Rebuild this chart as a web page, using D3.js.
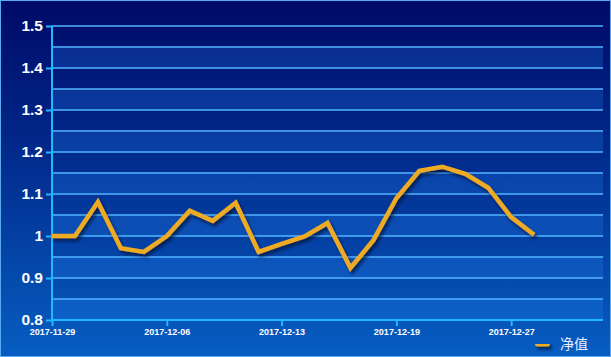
<!DOCTYPE html>
<html><head><meta charset="utf-8">
<script src="https://cdn.jsdelivr.net/npm/d3@7"></script>
<style>html,body{margin:0;padding:0;background:#000e6b;}svg{display:block;}</style>
</head><body>
<svg id="c" width="611" height="357"></svg>
<script>
const dates = ["2017-11-29","2017-11-30","2017-12-01","2017-12-04","2017-12-05","2017-12-06","2017-12-07","2017-12-08","2017-12-11","2017-12-12","2017-12-13","2017-12-14","2017-12-15","2017-12-17","2017-12-18","2017-12-19","2017-12-20","2017-12-21","2017-12-22","2017-12-26","2017-12-27","2017-12-28"];
const netValue = [1.0,1.0,1.081,0.971,0.962,1.0,1.06,1.036,1.079,0.962,0.981,0.999,1.031,0.924,0.99,1.09,1.155,1.165,1.148,1.115,1.045,1.003];
const xTickLabels = ["2017-11-29","2017-12-06","2017-12-13","2017-12-19","2017-12-27"];
const yTicks = [0.8,0.9,1,1.1,1.2,1.3,1.4,1.5];
const seriesName = "净值";

const W=611,H=357, L=52, R=603, T=26, B=320;
const svg=d3.select("#c");
const defs=svg.append("defs");
const g=defs.append("linearGradient").attr("id","bg").attr("x1",0).attr("y1",0).attr("x2",0).attr("y2",1);
g.append("stop").attr("offset","0%").attr("stop-color","#000966");
g.append("stop").attr("offset","45%").attr("stop-color","#012c8e");
g.append("stop").attr("offset","100%").attr("stop-color","#075ec2");
const f=defs.append("filter").attr("id","sh").attr("filterUnits","userSpaceOnUse")
  .attr("x",0).attr("y",0).attr("width",W).attr("height",H);
f.append("feDropShadow").attr("dx",2).attr("dy",3).attr("stdDeviation",1.6).attr("flood-color","#000a30").attr("flood-opacity",0.7);

svg.append("rect").attr("width",W).attr("height",H).attr("fill","url(#bg)");

const x=d3.scaleLinear().domain([0,24]).range([L,R]);
const y=d3.scaleLinear().domain([0.8,1.5]).range([B,T]);

// bands
const bands=d3.range(0,7).map(i=>0.8+i*0.1);
svg.append("g").selectAll("rect").data(bands).join("rect")
  .attr("x",L).attr("width",R-L)
  .attr("y",d=>y(d+0.05)).attr("height",d=>y(d)-y(d+0.05))
  .attr("fill","#2a8cff").attr("fill-opacity",0.22);

// grid lines
const grid=d3.range(0,15).map(i=>0.8+i*0.05);
svg.append("g").selectAll("line").data(grid.slice(1)).join("line")
  .attr("x1",L).attr("x2",R).attr("y1",d=>y(d)).attr("y2",d=>y(d))
  .attr("stroke","#52b4ff").attr("stroke-width",1.4);

// y axis
const ya=svg.append("g").attr("transform",`translate(${L},0)`)
  .call(d3.axisLeft(y).tickValues(yTicks).tickSize(6).tickPadding(3).tickFormat(d=>d3.format("")(+d.toFixed(1))));
ya.select(".domain").attr("stroke","#20b8ff").attr("stroke-width",2).attr("d",`M0,${T}V${B}`);
ya.selectAll(".tick line").attr("stroke","#20b8ff").attr("stroke-width",2);
ya.selectAll(".tick text").attr("fill","#ffffff").attr("font-family","Liberation Sans, Arial, sans-serif")
  .attr("font-weight","bold").attr("font-size",15.5);

// x axis
const xa=svg.append("g").attr("transform",`translate(0,${B})`)
  .call(d3.axisBottom(x).tickValues(xTickLabels.map(d=>dates.indexOf(d))).tickSize(6).tickPadding(3).tickFormat(i=>dates[i]));
xa.select(".domain").attr("stroke","#20b8ff").attr("stroke-width",2).attr("d",`M${L},0H${R}`);
xa.selectAll(".tick line").attr("stroke","#20b8ff").attr("stroke-width",2);
xa.selectAll(".tick text").attr("fill","#ffffff").attr("font-family","Liberation Sans, Arial, sans-serif")
  .attr("font-weight","bold").attr("font-size",9);

// line
const line=d3.line().x((d,i)=>x(i)).y(d=>y(d));
svg.append("path").datum(netValue).attr("d",line).attr("fill","none")
  .attr("stroke","#eeaa22").attr("stroke-width",4.5).attr("stroke-linejoin","miter").attr("filter","url(#sh)");

// legend
const lg=svg.append("g").attr("transform","translate(535,344)");
lg.append("rect").attr("x",0).attr("y",-2.5).attr("width",15).attr("height",5).attr("rx",2.5)
  .attr("fill","#eeaa22").attr("filter","url(#sh)");
lg.append("text").attr("x",25).attr("y",5).text(seriesName).attr("fill","#e8f0ff")
  .attr("font-family","Noto Sans CJK SC, sans-serif").attr("font-size",14);

// frame
svg.append("rect").attr("x",0.5).attr("y",0.5).attr("width",W-1).attr("height",H-1)
  .attr("fill","none").attr("stroke","#5aa8ee").attr("stroke-width",1);
</script>
</body></html>
